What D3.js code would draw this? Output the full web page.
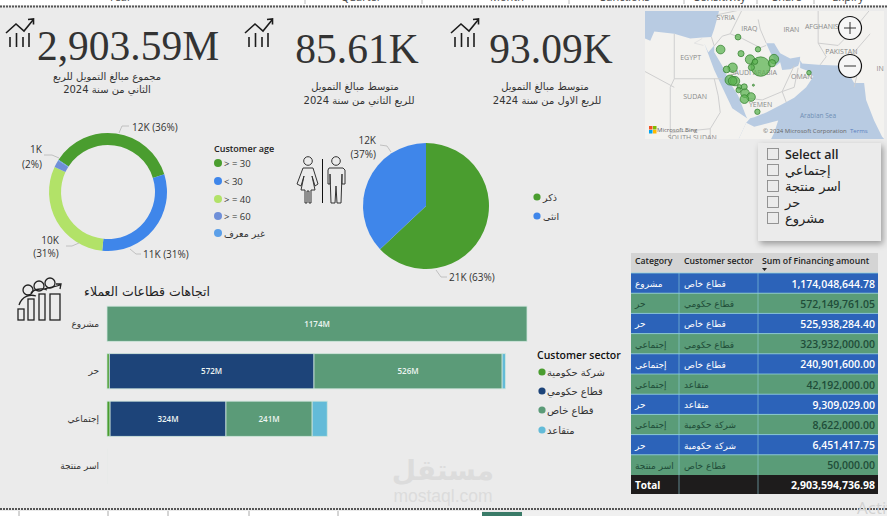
<!DOCTYPE html>
<html><head><meta charset="utf-8">
<script src="https://cdn.jsdelivr.net/npm/d3@7"></script>
<style>html,body{margin:0;padding:0;background:#ebebeb}svg{display:block}text{font-family:"Open Sans","DejaVu Sans",sans-serif}</style>
</head><body><svg id="c" width="887" height="516"></svg>
<script>
// ---------- data ----------
const kpiValues=["2,903.59M","85.61K","93.09K"];
const kpiCaptions=[["مجموع مبالغ التمويل للربع","الثاني من سنة 2024"],["متوسط مبالغ التمويل","للربع الثاني من سنة 2024"],["متوسط مبالغ التمويل","للربع الاول من سنة 2424"]];
const ageCats=["> = 30","< 30","> = 40","> = 60","غير معرف"];
const agePct=[36,31.4,30.4,2,0.2];
const ageColors=["#4a9d2f","#3f86ea","#b2e268","#6f8fd8","#5b9fe8"];
const genderCats=["ذكر","انثى"];
const genderPct=[63,37];
const genderColors=["#4a9d2f","#3f86ea"];
const sectors=["شركة حكومية","قطاع حكومي","قطاع خاص","متقاعد"];
const sectorColors=["#4a9d2f","#1d4479","#5b9b78","#63bbd8"];
const barCats=["مشروع","حر","إجتماعي","اسر منتجة"];
const barGov=[0,6.45,8.62,0];
const barPublic=[0,572.15,323.93,0];
const barPrivate=[1174.05,525.94,240.90,0.05];
const barRetired=[0,9.31,42.19,0];
const tableCats=["مشروع","حر","حر","إجتماعي","إجتماعي","إجتماعي","حر","إجتماعي","حر","اسر منتجة"];
const tableSectors=["قطاع خاص","قطاع حكومي","قطاع خاص","قطاع حكومي","قطاع خاص","متقاعد","متقاعد","شركة حكومية","شركة حكومية","قطاع خاص"];
const tableAmounts=["1,174,048,644.78","572,149,761.05","525,938,284.40","323,932,000.00","240,901,600.00","42,192,000.00","9,309,029.00","8,622,000.00","6,451,417.75","50,000.00"];
const slicerItems=["Select all","إجتماعي","اسر منتجة","حر","مشروع"];
const bubbleLon=[40.95,36.6,41.7,45.95,43.95,46.6,49.95,49.45,44.3,45.2,39.6,38.1,38.95,40.2,39.6,44.8,41.3,42.5,41.1,42.7,44.2,42.55,45.8,58.7];
const bubbleLat=[31.3,28.6,27.7,28.65,26.4,24.8,26.5,25.55,24.6,25.9,24.55,24.15,21.7,21.45,21.5,20.5,20.1,20.1,19.35,18.6,17.7,17.2,14.15,23.4];
const bubbleSize=[8,18,9,7,21,90,21,13,9,7,21,11,24,21,18,1,5,9,7,18,18,18,7,5];
const topLabels=[["Year",120],["Quarter",361],["Month",507],["Sanctions",625],["Sensitivity",720],["Share",787],["Expiry",848]];
const topDividers=[305,422,569,684,757,814];
const bottomDividers=[19,108,168,249,338];

const svg=d3.select("#c");
const ARABIC='"DejaVu Sans",sans-serif';
function txt(g,s,x,y,o={}){const t=g.append("text").attr("x",x).attr("y",y).text(s)
 .attr("font-size",o.size||10).attr("fill",o.fill||"#333").attr("text-anchor",o.anchor||"start");
 if(o.family)t.style("font-family",o.family); if(o.weight)t.attr("font-weight",o.weight); if(o.op)t.attr("opacity",o.op); return t;}

// ---------- page frame ----------
svg.append("rect").attr("width",887).attr("height",516).attr("fill","#ebebeb");
svg.append("rect").attr("width",887).attr("height",5).attr("fill","#fff");
topLabels.forEach(d=>txt(svg,d[0],d[1],1,{size:11,anchor:"middle",fill:"#444"}));
topDividers.forEach(x=>svg.append("line").attr("x1",x).attr("x2",x).attr("y1",0).attr("y2",4).attr("stroke","#bbb"));
svg.append("line").attr("x1",0).attr("x2",887).attr("y1",6.5).attr("y2",6.5).attr("stroke","#555").attr("stroke-width",2).attr("stroke-dasharray","2 1");
svg.append("line").attr("x1",0).attr("x2",887).attr("y1",509).attr("y2",509).attr("stroke","#555").attr("stroke-width",2).attr("stroke-dasharray","2 1");
svg.append("rect").attr("y",511).attr("width",482).attr("height",5).attr("fill","#fff");
svg.append("rect").attr("x",522).attr("y",511).attr("width",365).attr("height",5).attr("fill","#f0f0f0");
svg.append("rect").attr("x",482).attr("y",512).attr("width",40).attr("height",4).attr("fill","#3a7b68");
bottomDividers.forEach(x=>svg.append("line").attr("x1",x).attr("x2",x).attr("y1",511).attr("y2",516).attr("stroke","#aaa"));

// ---------- KPI ----------
const kpiX=[128,357,551], kpiY=[60,63,63], capX=[[107,107],[355,359],[545,547]], capY=[[80,93],[90,104],[90,104]];
kpiValues.forEach((v,i)=>{
 txt(svg,v,kpiX[i],kpiY[i],{size:41.5,anchor:"middle",family:'"Liberation Serif",serif',fill:"#333"});
 kpiCaptions[i].forEach((c,j)=>txt(svg,c,capX[i][j],capY[i][j],{size:i==0?10:10,anchor:"middle",family:ARABIC,fill:"#333"}));
});
[0,239,445].forEach(dx=>{
 const g=svg.append("g").attr("transform",`translate(${dx},0)`).attr("fill","none").attr("stroke","#1c1c1c").attr("stroke-width",1.6);
 g.append("path").attr("d","M6 33L16 24L24 31L33 20");
 g.append("path").attr("d","M28 19.5L33.5 19L33.5 24.5");
 [[10,37,47],[16.5,33,47],[23,37,47],[29,33,47]].forEach(b=>g.append("line").attr("x1",b[0]).attr("x2",b[0]).attr("y1",b[1]).attr("y2",b[2]));
});

// ---------- donut ----------
const pieAge=d3.pie().sort(null).startAngle(-57*Math.PI/180).endAngle(303*Math.PI/180);
const gD=svg.append("g").attr("transform","translate(108,192)");
gD.selectAll("path").data(pieAge(agePct)).join("path").attr("d",d3.arc().innerRadius(47).outerRadius(59)).attr("fill",(d,i)=>ageColors[i]);
const lead=(pts)=>svg.append("path").attr("d",d3.line()(pts)).attr("fill","none").attr("stroke","#b5b5b5").attr("stroke-width",.8);
lead([[119,133],[122,126],[129,126]]);lead([[44,155],[52,155],[59,158]]);lead([[130,249],[136,254],[141,254]]);lead([[79,243],[72,246],[66,246]]);
txt(svg,"12K (36%)",132,131,{size:10});
txt(svg,"1K",36,153,{size:10,anchor:"middle"});txt(svg,"(2%)",32,168,{size:10,anchor:"middle"});
txt(svg,"11K (31%)",143,258,{size:10});
txt(svg,"10K",50,244,{size:10,anchor:"middle"});txt(svg,"(31%)",46,257,{size:10,anchor:"middle"});
txt(svg,"Customer age",214,152,{size:9,weight:600,fill:"#222"});
ageCats.forEach((c,i)=>{const y=[163,181,199,216,233][i];
 svg.append("circle").attr("cx",218).attr("cy",y).attr("r",4).attr("fill",ageColors[i]);
 txt(svg,c,224,y+3.5,{size:9.5,fill:"#333",family:i==4?ARABIC:null});});

// ---------- pie ----------
const gP=svg.append("g").attr("transform","translate(426,206)");
gP.selectAll("path").data(d3.pie().sort(null)(genderPct)).join("path").attr("d",d3.arc().innerRadius(0).outerRadius(63)).attr("fill",(d,i)=>genderColors[i]);
lead([[391,152],[387,146],[380,145]]);lead([[436,270],[441,277],[447,277]]);
txt(svg,"12K",376,144,{size:10,anchor:"end"});txt(svg,"(37%)",376,158,{size:10,anchor:"end"});
txt(svg,"21K (63%)",449,281,{size:10});
genderCats.forEach((c,i)=>{const y=[197,216][i];
 svg.append("circle").attr("cx",537).attr("cy",y).attr("r",3.6).attr("fill",genderColors[i]);
 txt(svg,c,543,y+3.5,{size:9.5,family:ARABIC});});
// people icon
const ic=svg.append("g").attr("fill","none").attr("stroke","#333").attr("stroke-width",1);
ic.append("circle").attr("cx",308).attr("cy",161).attr("r",4.3);
ic.append("path").attr("d","M303 168L313 168L318 184L315 186L312 176L315 190L311 190L311 203L309 203L309 191L307 191L307 203L305 203L305 190L301 190L304 176L301 186L297 184Z");
ic.append("circle").attr("cx",336).attr("cy",161).attr("r",4.3);
ic.append("path").attr("d","M329 168L343 168L345 170L345 184L342 184L342 174L341 203L337 203L336 186L335 203L331 203L330 174L330 184L328 184L328 170Z");
svg.append("line").attr("x1",322.5).attr("x2",322.5).attr("y1",159).attr("y2",203).attr("stroke","#111").attr("stroke-width",1);

// ---------- stacked bars ----------
const x=d3.scaleLinear().domain([0,1174.05]).range([107,527]);
const y=d3.scaleBand().domain(barCats).range([300,490]).paddingInner(.26).paddingOuter(.13);
const rows=barCats.map((c,i)=>({cat:c,"0":barGov[i],"1":barPublic[i],"2":barPrivate[i],"3":barRetired[i]}));
const stack=d3.stack().keys(["0","1","2","3"])(rows);
const gB=svg.append("g");
stack.forEach((s,k)=>{
 gB.selectAll(null).data(s).join("rect").attr("x",d=>x(d[0])).attr("width",d=>x(d[1])-x(d[0]))
  .attr("y",d=>y(d.data.cat)).attr("height",y.bandwidth()).attr("fill",sectorColors[k]).attr("stroke","#cfe6dc").attr("stroke-width",d=>x(d[1])-x(d[0])>.5?.8:0);
 gB.selectAll(null).data(s.filter(d=>d[1]-d[0]>100)).join("text").attr("x",d=>(x(d[0])+x(d[1]))/2).attr("y",d=>y(d.data.cat)+y.bandwidth()/2+3)
  .attr("text-anchor","middle").attr("font-size",8).attr("font-weight",600).attr("fill","#eef5f2").text(d=>Math.round(d[1]-d[0])+"M");
});
barCats.forEach(c=>txt(svg,c,99,y(c)+y.bandwidth()/2+3,{size:9,anchor:"end",family:ARABIC}));
txt(svg,"اتجاهات قطاعات العملاء",147,296,{size:12.5,anchor:"middle",family:ARABIC,fill:"#222"});
txt(svg,"Customer sector",537,359,{size:10.5,weight:600,fill:"#111"});
sectors.forEach((c,i)=>{const yy=[372,391,410,430][i];
 svg.append("circle").attr("cx",542).attr("cy",yy).attr("r",3.6).attr("fill",sectorColors[i]);
 txt(svg,c,547,yy+3.5,{size:10,family:ARABIC});});
const pi=svg.append("g").attr("fill","none").attr("stroke","#222").attr("stroke-width",1.3);
[[18,309,6,11],[28,299,6,21],[39,294,6,26],[50,294,10,26]].forEach(b=>pi.append("rect").attr("x",b[0]).attr("y",b[1]).attr("width",b[2]).attr("height",b[3]));
[[28,290],[39,286],[50,283]].forEach(c=>pi.append("circle").attr("cx",c[0]).attr("cy",c[1]).attr("r",5));
pi.append("path").attr("d","M19 305C22 296 30 294 36 296M31 293C34 289 42 288 47 290M44 289C50 287 56 287 60 285M56 284L61 284L60 289");

// ---------- table ----------
const tx=[631,679,758,878], rowH=20.2, ty0=273;
const tG=svg.append("g");
tG.append("rect").attr("x",631).attr("y",253).attr("width",247).attr("height",20).attr("fill","#d4d4d4");
txt(tG,"Category",635,264,{size:8.7,weight:600,fill:"#222"});
txt(tG,"Customer sector",684,264,{size:8.7,weight:600,fill:"#222"});
txt(tG,"Sum of Financing amount",762,264,{size:8.7,weight:600,fill:"#222"});
tG.append("path").attr("d","M762 268L767 268L764.5 271Z").attr("fill","#222");
tableAmounts.forEach((a,i)=>{
 const yy=ty0+i*rowH, blue=i%2==0, col=blue?"#ffffff":"#1f4d39";
 tG.append("rect").attr("x",631).attr("y",yy).attr("width",247).attr("height",rowH).attr("fill",blue?"#2c63b9":"#5a9c78");
 tG.append("line").attr("x1",631).attr("x2",878).attr("y1",yy).attr("y2",yy).attr("stroke","#8fd0dc").attr("stroke-width",.8);
 txt(tG,tableCats[i],635,yy+14,{size:9,family:ARABIC,fill:col});
 txt(tG,tableSectors[i],684,yy+14,{size:9,family:ARABIC,fill:col});
 txt(tG,a,875,yy+14.5,{size:10.5,weight:600,anchor:"end",fill:col});
});
tG.append("rect").attr("x",631).attr("y",475).attr("width",247).attr("height",19).attr("fill","#1e1c1c");
txt(tG,"Total",635,489,{size:10,weight:700,fill:"#fff"});
txt(tG,"2,903,594,736.98",875,489,{size:10.5,weight:700,anchor:"end",fill:"#fff"});
tx.slice(1,3).forEach(v=>tG.append("line").attr("x1",v).attr("x2",v).attr("y1",273).attr("y2",494).attr("stroke","#8fd0dc").attr("stroke-width",.6));

// ---------- map ----------
const proj=d3.geoMercator().center([46.7,24.7]).scale(229).translate([761,67]);
const defs=svg.append("defs");
defs.append("clipPath").attr("id","mapclip").append("rect").attr("x",645).attr("y",11).attr("width",239).attr("height",128);
const blur=defs.append("filter").attr("id","sh").attr("x","-20%").attr("y","-20%").attr("width","140%").attr("height","140%");
blur.append("feDropShadow").attr("dx",2).attr("dy",3).attr("stdDeviation",3).attr("flood-color","#000").attr("flood-opacity",.35);
const gM=svg.append("g").attr("clip-path","url(#mapclip)");
gM.append("rect").attr("x",645).attr("y",11).attr("width",239).attr("height",128).attr("fill","#f3f2ef");
const seas=[
 [[15,38],[36.5,38],[36,36],[35,33],[34.3,31.3],[32,31.2],[29,31],[25,32],[20,32.5],[19,30.5],[15,32]],
 [[32.5,30],[33.5,28],[35,29.5],[35,28],[37,25],[39,21],[41,18],[43,13],[43.3,12.5],[39.5,15],[37,20],[35,24]],
 [[48,30],[50,30],[51.5,27.8],[54,26.6],[56.5,27],[56.4,26],[56,25],[54,24.2],[52,24],[51.5,25.8],[50.5,25],[50,26.5],[49,28]],
 [[56.5,26.2],[57,25.5],[61,25.2],[67,25],[68.5,23.5],[70,21],[72.5,21],[73,17],[75,12],[77,8],[80,5],[40,5],[43,11.5],[44,12.6],[45,12.8],[48,14],[52,16],[55,17.5],[58,20],[59.8,22.5],[58.5,23.8],[56.5,24.5]]
];
const landPatch=[[[43,11.5],[45,10.5],[51,12],[50,9],[48,5],[40,5]]];
const borders=[
 [[25,32],[25,22],[37,22]],[[25,22],[24,20],[24,5]],[[17,24],[25,20]],[[35,29.4],[34.3,31.3]],
 [[35,29.4],[37,31.5],[39,32],[42,37]],[[39,32],[42,31],[46.5,29],[48,29.5]],[[36,36],[42,37],[44.5,37.5]],
 [[46,35],[46.5,33],[48,30]],[[55,25],[52,19],[55,20],[56,24.5]],[[43,17.5],[47,17],[52,19]],[[52,19],[53,16.5]],
 [[35,22],[36,18],[36.5,14],[34,10],[34,5]],[[24,9],[34,10]],[[61,37],[61,30],[63,27],[61.5,25.2]],[[61,30],[66,29.5],[70,33],[74,37]],[[70,20],[71,24],[70,28],[74,32]]
];
const ll=d3.line().x(d=>proj(d)[0]).y(d=>proj(d)[1]);
seas.forEach(p=>gM.append("path").attr("d",ll(p)+"Z").attr("fill","#b8cbe2"));
landPatch.forEach(p=>gM.append("path").attr("d",ll(p)+"Z").attr("fill","#f3f2ef"));
borders.forEach(p=>gM.append("path").attr("d",ll(p)).attr("fill","none").attr("stroke","#cfcfcf").attr("stroke-width",1));
gM.append("path").attr("d",ll([[32,31],[30,30],[32.3,29.5]])).attr("fill","none").attr("stroke","#e4e4e4");
const mapLabels=[["SYRIA",37.9,34.9],["IRAQ",43.8,32.6],["IRAN",54.3,32.3],["AFGHANIST",62.4,33],["PAKISTAN",66.8,27.7],["EGYPT",29.1,26.3],["SAUDI ARABIA",44.9,22.9],["OMAN",56.9,21.9],["SUDAN",30.2,17.2],["YEMEN",46.6,15.2],["IN",76.5,23.7],["SOUTH SUDAN",29.5,7.3]];
mapLabels.forEach(d=>{const p=proj([d[1],d[2]]);txt(gM,d[0],p[0],p[1],{size:7,anchor:"middle",fill:"#8a8a8a"});});
const rB=d3.scaleSqrt().domain([0,90]).range([0,9.7]);
gM.selectAll("circle").data(bubbleLon.map((l,i)=>({l,a:bubbleLat[i],s:bubbleSize[i]}))).join("circle")
 .attr("cx",d=>proj([d.l,d.a])[0]).attr("cy",d=>proj([d.l,d.a])[1]).attr("r",d=>rB(d.s))
 .attr("fill","#5fb454").attr("fill-opacity",.75).attr("stroke","#2f7d2b").attr("stroke-width",.7);
txt(gM,"Arabian Sea",818,118,{size:6.5,anchor:"middle",fill:"#6f8fb5"});
txt(gM,"© 2024 Microsoft Corporation",763,133,{size:6,fill:"#666"});
txt(gM,"Terms",850,133,{size:6,fill:"#5b7fc0"});
[["#f25022",649,126],["#7fba00",653,126],["#00a4ef",649,130],["#ffb900",653,130]].forEach(c=>gM.append("rect").attr("x",c[1]).attr("y",c[2]).attr("width",3.5).attr("height",3.5).attr("fill",c[0]));
txt(gM,"Microsoft Bing",657,132,{size:6,fill:"#666"});
[[850,28,1],[850,66,0]].forEach(b=>{
 svg.append("circle").attr("cx",b[0]).attr("cy",b[1]).attr("r",11.5).attr("fill","#f6f6f6").attr("stroke","#111").attr("stroke-width",1.2);
 svg.append("line").attr("x1",b[0]-6).attr("x2",b[0]+6).attr("y1",b[1]).attr("y2",b[1]).attr("stroke","#333").attr("stroke-width",1);
 if(b[2])svg.append("line").attr("x1",b[0]).attr("x2",b[0]).attr("y1",b[1]-6).attr("y2",b[1]+6).attr("stroke","#333").attr("stroke-width",1);
});

// ---------- slicer ----------
svg.append("rect").attr("x",758).attr("y",143).attr("width",123).attr("height",98).attr("fill","#ebebeb").attr("filter","url(#sh)");
slicerItems.forEach((s,i)=>{const yy=154+i*16;
 svg.append("rect").attr("x",767.5).attr("y",yy-5.5).attr("width",11).attr("height",11).attr("fill","none").attr("stroke","#8a8a8a").attr("stroke-width",.9);
 txt(svg,s,785,yy+4.5,{size:i==0?12.5:13,weight:i==0?600:null,family:i==0?null:ARABIC,fill:"#222"});
});

// ---------- watermark ----------
txt(svg,"مستقل",443,480,{size:28,weight:700,anchor:"middle",family:ARABIC,fill:"#dcdcdc"});
txt(svg,"mostaql.com",443,502,{size:17.5,anchor:"middle",family:'"Liberation Sans",sans-serif',fill:"#dcdcdc"});
txt(svg,"Activ",857,514,{size:17,fill:"#d2d2d2"});
</script></body></html>
